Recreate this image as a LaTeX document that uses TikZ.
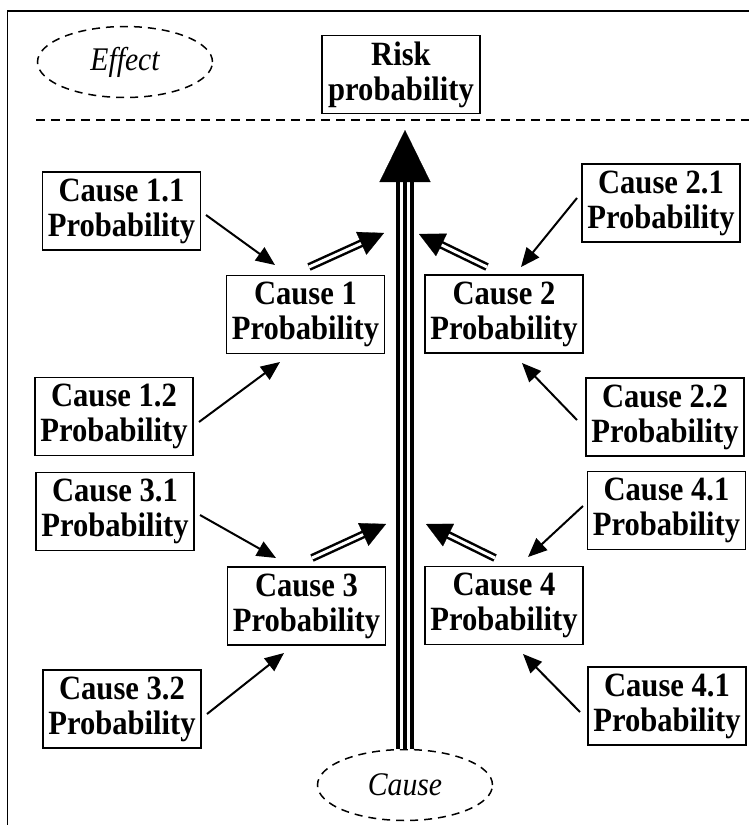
\documentclass[tikz,border=0pt]{standalone}
\usepackage{fontspec}
\setmainfont{Liberation Serif}
\newfontfamily\narrowserif[FakeStretch=0.9]{Liberation Serif}
\usetikzlibrary{arrows.meta,calc,shapes.geometric}
\begin{document}
\begin{tikzpicture}[x=1pt,y=-1pt,
  box/.style={draw,line width=1.6pt,minimum width=158pt,minimum height=78pt,inner sep=1pt,align=center,font=\narrowserif\fontsize{34}{35}\selectfont\bfseries},
  oval/.style={ellipse,draw,dash pattern=on 8pt off 6pt,line width=1.5pt,minimum width=175pt,minimum height=71pt,inner sep=0pt,font=\narrowserif\fontsize{33}{35}\selectfont\itshape},
  thinarrow/.style={line width=2pt,-{Triangle[length=19pt,width=16pt]}},
  dblline/.style={double,double distance=3pt,line width=2.5pt,shorten >=20pt},
  dbltip/.style={line width=0.2pt,-{Triangle[length=25pt,width=25pt]}}
]
\useasboundingbox (0,0) rectangle (749,825);
\clip (0,0) rectangle (749,825);
% frame
\draw[line width=1.6pt] (7.5,900) -- (7.5,11) -- (800,11);
% dashed separator
\coordinate (sepL) at (36,120);
\coordinate (sepR) at (760,120);
\draw[line width=2pt,dash pattern=on 9pt off 6pt] (sepL) -- (sepR);

% ovals
\node[oval] (effect) at (125,62) {Effect};
\node[oval] (cause) at (405,785) {Cause};

% boxes
\node[box] (risk) at (401,74.5) {Risk\\probability};
\node[box] (c11) at (121.5,211) {Cause 1.1\\Probability};
\node[box] (c21) at (661,203) {Cause 2.1\\Probability};
\node[box] (c1) at (305.5,314.5) {Cause 1\\Probability};
\node[box] (c2) at (504,314) {Cause 2\\Probability};
\node[box] (c12) at (114,416.5) {Cause 1.2\\Probability};
\node[box] (c22) at (665,417) {Cause 2.2\\Probability};
\node[box] (c31) at (115,511.5) {Cause 3.1\\Probability};
\node[box] (c41) at (666.5,510.5) {Cause 4.1\\Probability};
\node[box] (c3) at (306.5,606) {Cause 3\\Probability};
\node[box] (c4) at (504,605.5) {Cause 4\\Probability};
\node[box] (c32) at (122,709) {Cause 3.2\\Probability};
\node[box] (c42) at (667,706) {Cause 4.1\\Probability};

% main shaft
\coordinate (hb) at (405,182);
\coordinate (tip) at (405,130);
\draw[line width=18pt] (cause.north) -- (hb);
\draw[white,line width=10pt] (cause.north) -- (hb);
\draw[line width=4pt] (cause.north) -- (hb);
\draw[line width=0.2pt,-{Triangle[length=52pt,width=51pt]}] (hb) -- (tip);

% thin arrows
\coordinate (a11s) at (206,215); \coordinate (a11t) at (275,265);
\coordinate (a12s) at (199,422); \coordinate (a12t) at (280,362);
\coordinate (a21s) at (577,198); \coordinate (a21t) at (521,267);
\coordinate (a22s) at (577,420); \coordinate (a22t) at (522,363);
\coordinate (a31s) at (200,515); \coordinate (a31t) at (276,558);
\coordinate (a32s) at (207,714); \coordinate (a32t) at (284,653);
\coordinate (a41s) at (583,506); \coordinate (a41t) at (528,557);
\coordinate (a42s) at (580,712); \coordinate (a42t) at (523,654);
\draw[thinarrow] (a11s) -- (a11t);
\draw[thinarrow] (a12s) -- (a12t);
\draw[thinarrow] (a21s) -- (a21t);
\draw[thinarrow] (a22s) -- (a22t);
\draw[thinarrow] (a31s) -- (a31t);
\draw[thinarrow] (a32s) -- (a32t);
\draw[thinarrow] (a41s) -- (a41t);
\draw[thinarrow] (a42s) -- (a42t);

% double arrows
\coordinate (d1s) at (309,267); \coordinate (d1t) at (384,233);
\coordinate (d2s) at (487,267); \coordinate (d2t) at (419,234);
\coordinate (d3s) at (312,558); \coordinate (d3t) at (386,524);
\coordinate (d4s) at (495,558); \coordinate (d4t) at (426,524);
\foreach \s/\t in {d1s/d1t,d2s/d2t,d3s/d3t,d4s/d4t}{
  \draw[dblline] (\s) -- (\t);
  \draw[dbltip] ($(\t)!25pt!(\s)$) -- (\t);
}
\end{tikzpicture}
\end{document}
